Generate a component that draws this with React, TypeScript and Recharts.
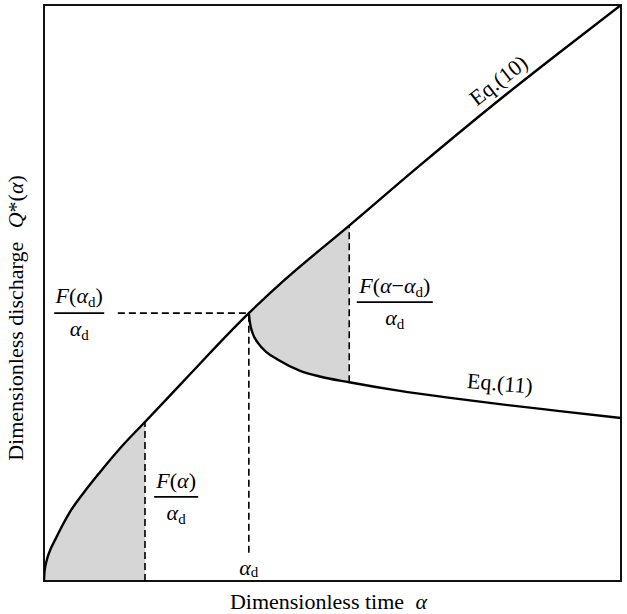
import React from "react";
import {
  ComposedChart,
  Line,
  Area,
  XAxis,
  YAxis,
  ReferenceLine,
  ReferenceDot,
  ReferenceArea,
} from "recharts";

// Eq.(10): full-supply curve (dimensionless)
const eq10 = [
  { x: 0, y: 0 },
  { x: 0.01, y: 0.17 },
  { x: 0.05, y: 0.37 },
  { x: 0.1, y: 0.52 },
  { x: 0.19, y: 0.71 },
  { x: 0.3, y: 0.93 },
  { x: 0.45, y: 1.2 },
  { x: 0.7, y: 1.55 },
  { x: 0.97, y: 1.89 },
  { x: 1.35, y: 2.34 },
  { x: 1.75, y: 2.76 },
  { x: 2.39, y: 3.44 },
  { x: 3.55, y: 4.65 },
  { x: 4.14, y: 5.2 },
  { x: 5.29, y: 6.17 },
  { x: 6.52, y: 7.22 },
  { x: 7.9, y: 8.36 },
  { x: 8.94, y: 9.18 },
  { x: 10, y: 10 },
];

// Eq.(11): recession curve after alpha_d
const eq11 = [
  { x: 3.55, y: 4.65 },
  { x: 3.57, y: 4.48 },
  { x: 3.62, y: 4.29 },
  { x: 3.71, y: 4.13 },
  { x: 3.86, y: 3.97 },
  { x: 4.04, y: 3.85 },
  { x: 4.44, y: 3.65 },
  { x: 4.78, y: 3.55 },
  { x: 5.29, y: 3.45 },
  { x: 6.17, y: 3.3 },
  { x: 7.04, y: 3.18 },
  { x: 7.9, y: 3.07 },
  { x: 8.94, y: 2.95 },
  { x: 10, y: 2.83 },
];

// shaded region under Eq.(10) up to alpha
const shade1 = [
  { x: 0, r: [0, 0] },
  { x: 0.01, r: [0, 0.17] },
  { x: 0.05, r: [0, 0.37] },
  { x: 0.1, r: [0, 0.52] },
  { x: 0.19, r: [0, 0.71] },
  { x: 0.3, r: [0, 0.93] },
  { x: 0.45, r: [0, 1.2] },
  { x: 0.7, r: [0, 1.55] },
  { x: 0.97, r: [0, 1.89] },
  { x: 1.35, r: [0, 2.34] },
  { x: 1.75, r: [0, 2.76] },
];

// shaded region between Eq.(11) and Eq.(10)
const shade2 = [
  { x: 3.55, r: [4.65, 4.65] },
  { x: 3.57, r: [4.48, 4.67] },
  { x: 3.62, r: [4.29, 4.72] },
  { x: 3.71, r: [4.13, 4.81] },
  { x: 3.86, r: [3.97, 4.95] },
  { x: 4.04, r: [3.85, 5.12] },
  { x: 4.44, r: [3.65, 5.46] },
  { x: 4.78, r: [3.55, 5.74] },
  { x: 5.29, r: [3.45, 6.17] },
];

const ALPHA = 1.75;
const ALPHA_D = 3.55;
const Q_D = 4.65;
const ALPHA2 = 5.29;

const FONT = "'Liberation Serif', 'DejaVu Serif', serif";
const FS = 22;
const SUB = 15;

const Ad = () => (
  <>
    <tspan fontStyle="italic">α</tspan>
    <tspan fontSize={SUB} dy={4}>d</tspan>
  </>
);

const fraction = (num: React.ReactNode, w: number, up: number, down: number) => (props: any) => {
  const { cx, cy } = props;
  return (
    <g fontFamily={FONT} fontSize={FS} fill="#000">
      <text x={cx} y={cy - up} textAnchor="middle">{num}</text>
      <line x1={cx - w / 2} x2={cx + w / 2} y1={cy} y2={cy} stroke="#000" strokeWidth={1.8} />
      <text x={cx} y={cy + down} textAnchor="middle"><Ad /></text>
    </g>
  );
};

const numAd = (
  <>
    <tspan fontStyle="italic">F</tspan>(<tspan fontStyle="italic">α</tspan>
    <tspan fontSize={SUB} dy={4}>d</tspan>
    <tspan dy={-4}>)</tspan>
  </>
);
const numA = (
  <>
    <tspan fontStyle="italic">F</tspan>(<tspan fontStyle="italic">α</tspan>)
  </>
);
const numAmAd = (
  <>
    <tspan fontStyle="italic">F</tspan>(<tspan fontStyle="italic">α</tspan>−<tspan fontStyle="italic">α</tspan>
    <tspan fontSize={SUB} dy={4}>d</tspan>
    <tspan dy={-4}>)</tspan>
  </>
);

const textShape = (content: React.ReactNode, angle: number) => (props: any) => {
  const { cx, cy } = props;
  return (
    <text
      x={cx}
      y={cy}
      textAnchor="middle"
      dominantBaseline="middle"
      fontFamily={FONT}
      fontSize={FS}
      fill="#000"
      transform={`rotate(${angle} ${cx} ${cy})`}
    >
      {content}
    </text>
  );
};

const XLabel = (props: any) => {
  const vb = props.viewBox || { x: 44, y: 581, width: 577 };
  return (
    <text x={vb.x + vb.width / 2 - 4} y={vb.y + 28} textAnchor="middle" fontFamily={FONT} fontSize={FS} fill="#000">
      Dimensionless time <tspan fontStyle="italic" dx={6}>α</tspan>
    </text>
  );
};

const YLabel = (props: any) => {
  const vb = props.viewBox || { x: 0, y: 5, height: 576 };
  const cx = 18;
  const cy = vb.y + vb.height / 2 + 25;
  return (
    <text
      x={cx}
      y={cy}
      textAnchor="middle"
      dominantBaseline="middle"
      fontFamily={FONT}
      fontSize={FS}
      fill="#000"
      transform={`rotate(-90 ${cx} ${cy})`}
    >
      Dimensionless discharge <tspan fontStyle="italic" dx={8}>Q</tspan>*(<tspan fontStyle="italic">α</tspan>)
    </text>
  );
};

const dash = "7 4";

export default function App() {
  return (
    <div style={{ position: "absolute", left: 0, top: 0, background: "#fff" }}>
      <ComposedChart width={627} height={614} margin={{ top: 5, right: 6, left: 0, bottom: 0 }}>
        <XAxis
          type="number"
          dataKey="x"
          domain={[0, 10]}
          allowDataOverflow
          tick={false}
          tickLine={false}
          axisLine={false}
          height={33}
          label={<XLabel />}
        />
        <YAxis
          type="number"
          domain={[0, 10]}
          allowDataOverflow
          tick={false}
          tickLine={false}
          axisLine={false}
          width={44}
          label={<YLabel />}
        />
        <Area
          data={shade1}
          dataKey="r"
          type="monotone"
          fill="#d6d6d6"
          fillOpacity={1}
          stroke="none"
          isAnimationActive={false}
          dot={false}
          activeDot={false}
        />
        <Area
          data={shade2}
          dataKey="r"
          type="monotone"
          fill="#d6d6d6"
          fillOpacity={1}
          stroke="none"
          isAnimationActive={false}
          dot={false}
          activeDot={false}
        />
        <ReferenceLine
          segment={[{ x: ALPHA, y: 0 }, { x: ALPHA, y: 2.76 }]}
          stroke="#000"
          strokeWidth={1.6}
          strokeDasharray={dash}
        />
        <ReferenceLine
          segment={[{ x: ALPHA_D, y: 0.49 }, { x: ALPHA_D, y: Q_D }]}
          stroke="#000"
          strokeWidth={1.6}
          strokeDasharray={dash}
        />
        <ReferenceLine
          segment={[{ x: 1.28, y: Q_D }, { x: ALPHA_D, y: Q_D }]}
          stroke="#000"
          strokeWidth={1.6}
          strokeDasharray={dash}
        />
        <ReferenceLine
          segment={[{ x: ALPHA2, y: 3.45 }, { x: ALPHA2, y: 6.17 }]}
          stroke="#000"
          strokeWidth={1.6}
          strokeDasharray={dash}
        />
        <Line
          data={eq10}
          dataKey="y"
          type="monotone"
          stroke="#000"
          strokeWidth={2.4}
          dot={false}
          activeDot={false}
          isAnimationActive={false}
        />
        <Line
          data={eq11}
          dataKey="y"
          type="monotone"
          stroke="#000"
          strokeWidth={2.4}
          dot={false}
          activeDot={false}
          isAnimationActive={false}
        />
        <ReferenceArea x1={0} x2={10} y1={0} y2={10} fill="none" stroke="#111" strokeWidth={2} />
        <ReferenceDot x={0.61} y={Q_D} r={0} shape={fraction(numAd, 50, 10, 23)} />
        <ReferenceDot x={6.08} y={4.84} r={0} shape={fraction(numAmAd, 76, 9, 23)} />
        <ReferenceDot x={2.29} y={1.46} r={0} shape={fraction(numA, 44, 9, 23)} />
        <ReferenceDot x={ALPHA_D} y={0.19} r={0} shape={textShape(<Ad />, 0)} />
        <ReferenceDot x={7.9} y={8.66} r={0} shape={textShape("Eq.(10)", -38)} />
        <ReferenceDot x={7.9} y={3.39} r={0} shape={textShape("Eq.(11)", 5)} />
      </ComposedChart>
    </div>
  );
}
